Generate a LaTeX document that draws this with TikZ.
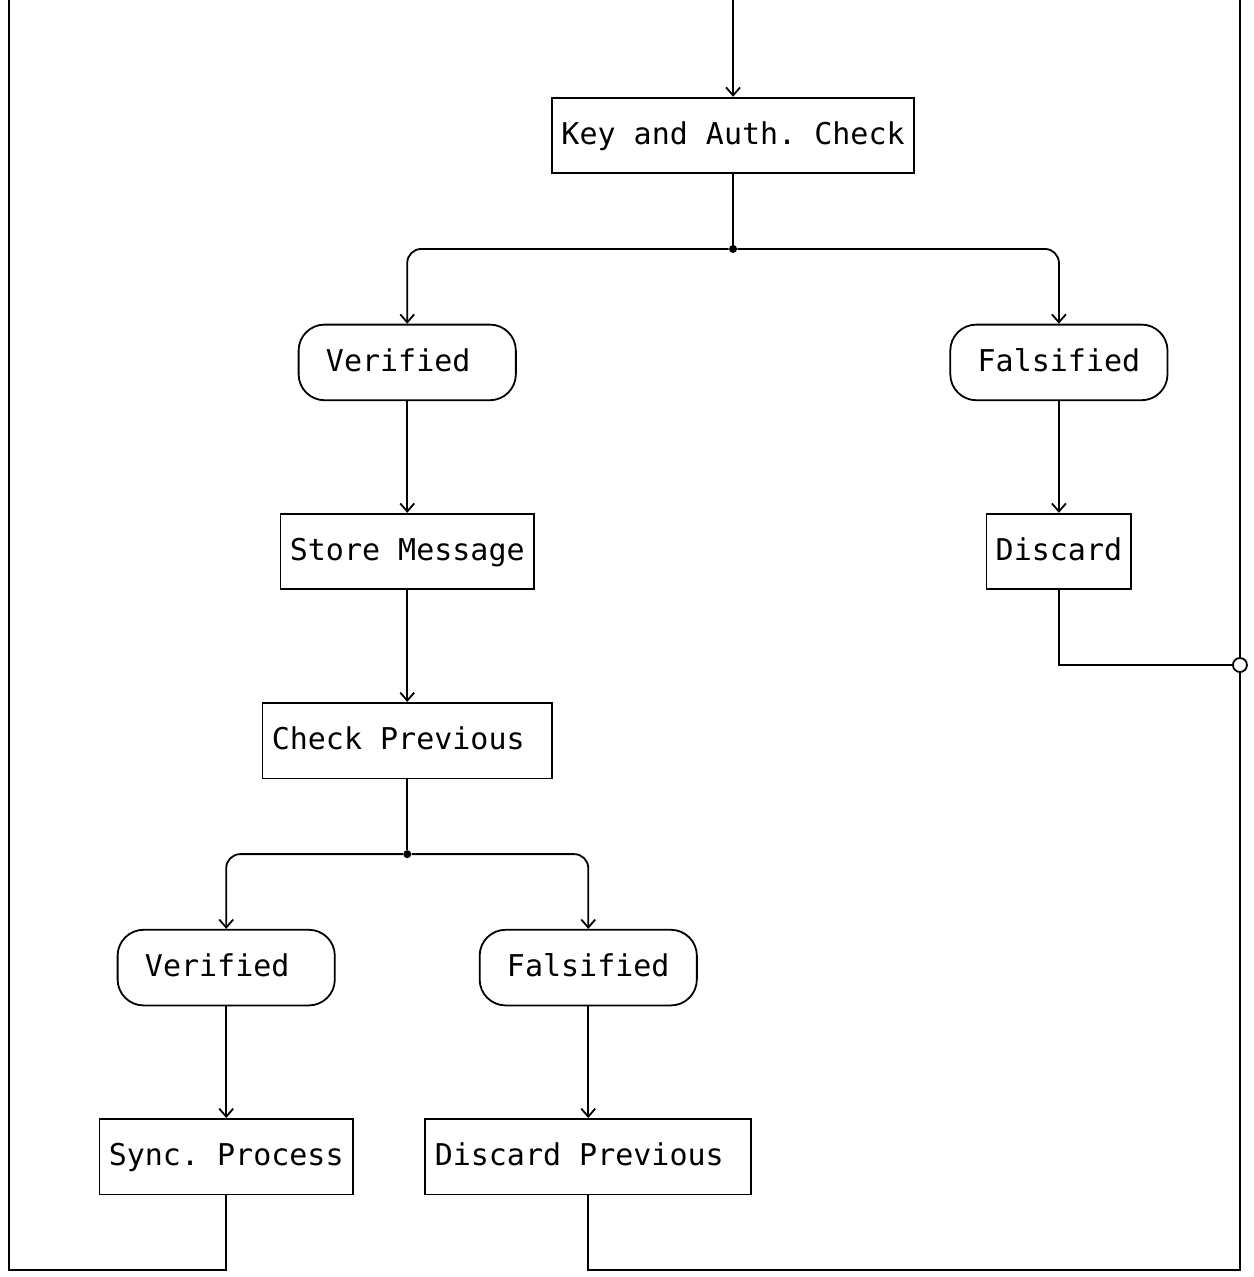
\documentclass[tikz,border=0pt]{standalone}
\usepackage{fontspec}
\newfontfamily\asciifont{DejaVu Sans Mono}
\usetikzlibrary{arrows.meta}
\frenchspacing

\def\cw{9.05pt}
\def\rh{18.91pt}
\def\boxlist{{(40,3)/key/20/Key and Auth. Check}, {(22,14)/store/14/Store Message}, {(58,14)/discard/8/Discard}, {(22,19)/check/16/Check Previous\kern0.6em}, {(12,30)/sync/14/Sync. Process}, {(32,30)/discprev/18/Discard Previous\kern0.6em}}
\def\ovallist{{(22,9)/ver1/Verified\kern0.6em}, {(58,9)/fal1/Falsified}, {(12,25)/ver2/Verified\kern0.6em}, {(32,25)/fal2/Falsified}}
\tikzstyle{edge} = [draw, line width=0.9pt, -]
\tikzstyle{flow} = [draw, line width=0.9pt, -{Straight Barb[length=4pt,width=7pt,line width=0.9pt]}]
\tikzstyle{box}=[draw, line width=0.9pt, rectangle, minimum height=2*\rh, inner sep=0pt, text height=0.96em, text depth=0.04em, font=\asciifont\fontsize{15}{18}\selectfont]
\tikzstyle{oval}=[box, rounded corners=13pt, minimum width=12*\cw]
\tikzstyle{junction}=[circle, fill=black, minimum size=4pt, inner sep=0pt]
\tikzstyle{merge}=[circle, draw, fill=white, line width=0.9pt, minimum size=7pt, inner sep=0pt]

\begin{document}
\begin{tikzpicture}[x=\cw, y=-\rh]
  \useasboundingbox (-0.497,-0.582) rectangle (68.73,33.18);
  \foreach \pos/\name/\w/\txt in \boxlist {
    \node[box, minimum width=\w*\cw] (\name) at \pos {\txt};
  }
  \foreach \pos/\name/\txt in \ovallist {
    \node[oval] (\name) at \pos {\txt};
  }

  % split points and loose ends
  \node[junction] (split1) at (40,6) {};
  \node[junction] (split2) at (22,22) {};
  \coordinate (in) at (40,-0.582);
  \coordinate (topL) at (0,-0.582);
  \coordinate (topR) at (68,-0.582);
  \coordinate (cornerL) at (0,33);
  \coordinate (cornerR) at (68,33);

  \path[flow] (in) -- (key);
  \path[edge] (key) -- (split1);
  \path[flow, rounded corners=7pt] (split1) -| (ver1);
  \path[flow, rounded corners=7pt] (split1) -| (fal1);
  \path[edge] (check) -- (split2);
  \path[flow, rounded corners=7pt] (split2) -| (ver2);
  \path[flow, rounded corners=7pt] (split2) -| (fal2);
  \foreach \source/\sink in {ver1/store, store/check, fal1/discard, ver2/sync, fal2/discprev} {
    \path[flow] (\source) -- (\sink);
  }

  % ways back up
  \path[edge] (sync) |- (cornerL) -- (topL);
  \path[edge] (discprev) |- (cornerR) -- (topR);
  \node[merge] (join) at (68,17) {};
  \path[edge] (discard) |- (join);
\end{tikzpicture}
\end{document}
